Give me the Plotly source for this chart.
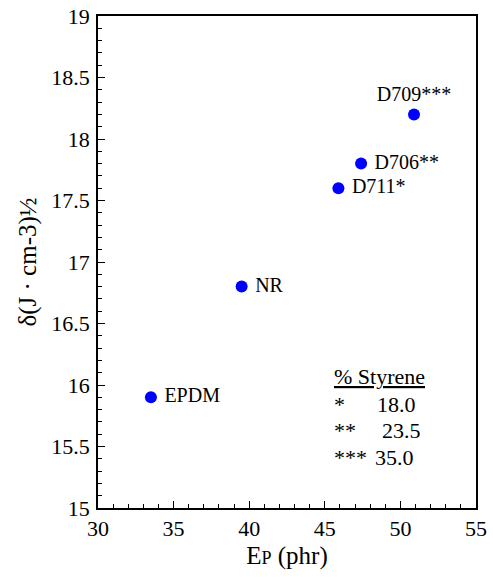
import plotly.graph_objects as go

names = ["EPDM", "NR", "D711*", "D706**", "D709***"]
ep = [33.5, 39.5, 45.9, 47.4, 50.9]
delta = [15.9, 16.8, 17.6, 17.8, 18.2]
positions = ["middle right", "middle right", "middle right", "middle right", "top center"]

legend_title = "% Styrene"
legend_stars = ["*", "**", "***"]
legend_vals = ["18.0", "23.5", "35.0"]

FONT = "Liberation Serif"

fig = go.Figure()
fig.add_trace(go.Scatter(
    x=ep, y=delta, mode="markers+text",
    text=[" " + n if p.endswith("right") else n for n, p in zip(names, positions)],
    textposition=positions,
    textfont=dict(family=FONT, size=20, color="black"),
    marker=dict(color="#0000ff", size=12),
    cliponaxis=False, showlegend=False, hoverinfo="skip",
))

# legend-like text box
fig.add_annotation(x=0.62, y=0.268, xref="paper", yref="paper", xanchor="left", yanchor="middle",
                   text="<u>" + legend_title + "</u>", showarrow=False,
                   font=dict(family=FONT, size=22, color="black"))
ys = [0.211, 0.157, 0.102]
numx = [0.733, 0.746, 0.728]
for s, v, yy, nx in zip(legend_stars, legend_vals, ys, numx):
    fig.add_annotation(x=0.62, y=yy, xref="paper", yref="paper", xanchor="left", yanchor="middle",
                       text=s, showarrow=False, font=dict(family=FONT, size=22, color="black"))
    fig.add_annotation(x=nx, y=yy, xref="paper", yref="paper", xanchor="left", yanchor="middle",
                       text=v, showarrow=False, font=dict(family=FONT, size=22, color="black"))

axis_common = dict(
    showgrid=False, zeroline=False, showline=True, linecolor="black", linewidth=1.5,
    mirror=True, ticks="inside", tickcolor="black", ticklen=7, tickwidth=1,
    tickfont=dict(family=FONT, size=22, color="black"), automargin=False,
)
fig.update_xaxes(range=[30, 55], dtick=5, tick0=30,
                 minor=dict(dtick=1, ticks="inside", ticklen=4, tickcolor="black"),
                 title=dict(text="E<span style='font-size:18px'>P</span> (phr)",
                            font=dict(family=FONT, size=25, color="black"), standoff=6),
                 **axis_common)
fig.update_yaxes(range=[15, 19], dtick=0.5, tick0=15,
                 minor=dict(dtick=0.1, ticks="inside", ticklen=4, tickcolor="black"),
                 ticklabelstandoff=2,
                 title=dict(text="δ(J · cm-3)½",
                            font=dict(family=FONT, size=25, color="black"), standoff=8),
                 **axis_common)

fig.update_layout(
    width=493, height=577,
    margin=dict(l=98, r=17, t=16, b=69),
    plot_bgcolor="white", paper_bgcolor="white",
)
fig.write_html("out.html", config={"displayModeBar": False},
               post_script="document.body.style.margin='0';")
